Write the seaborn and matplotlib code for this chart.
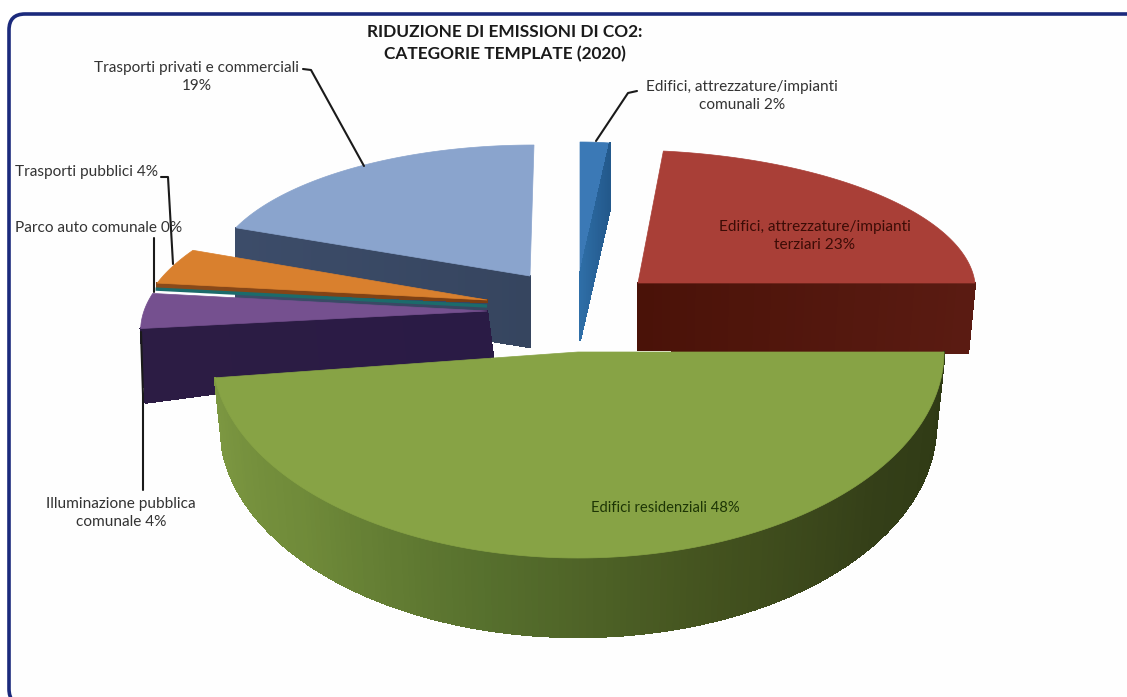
import numpy as np
import matplotlib
matplotlib.use("Agg")
import matplotlib.pyplot as plt
from matplotlib.collections import PolyCollection
from matplotlib.patches import FancyBboxPatch, Polygon
import seaborn as sns

TITLE = "RIDUZIONE DI EMISSIONI DI CO2:\nCATEGORIE TEMPLATE (2020)"

categories = [
    "Edifici, attrezzature/impianti\ncomunali",
    "Edifici, attrezzature/impianti\nterziari",
    "Edifici residenziali",
    "Illuminazione pubblica\ncomunale",
    "Parco auto comunale",
    "Trasporti pubblici",
    "Trasporti privati e commerciali\n",
]
shares = [2, 23, 48, 4, 0, 4, 19]

# colours, same order as the categories
top_colors = ["#3b79b6", "#a93f37", "#87a345", "#75508f", "#1c6b6b", "#d9802e", "#8aa4cd"]
wall_colors = [("#2f6fa8", "#23598c"), ("#4a1208", "#5a1b12"), None, ("#2a1b45", "#2c1c44"),
               None, ("#7a3d12", "#8a4a1a"), ("#36455f", "#3c4c69")]

# projected slices: apex x, apex y, half width, half height, lean, depth at rim, depth at apex, rim shift
cx = [580, 638, 578, 487, 487, 487, 530]
cy = [275, 283, 352, 311, 306, 300, 276]
rx = [240, 337, 366, 343, 334, 340, 318]
ry = [133, 133, 206, 140, 135, 135, 131]
lean = [0, -17, 0, 48, 0, 60, 4]
depth_rim = [65, 70, 0, 74, 0, 5, 72]
depth_apex = [65, 67, 0, 46, 0, 2, 71]
shift_rim = [0, -7, 0, 5, 0, 0, 0]
shift_apex = [0, 0, 0, 6, 0, 0, 0]

sns.set_theme(style="white")
plt.rcParams["font.family"] = ["Lato", "DejaVu Sans"]

W, H = 1127, 697
fig, ax = plt.subplots(figsize=(W / 100, H / 100), dpi=100)
fig.subplots_adjust(0, 0, 1, 1)
ax.set_xlim(0, W)
ax.set_ylim(H, 0)
ax.axis("off")

ax.add_patch(FancyBboxPatch((24, 29), 1300, 661, boxstyle="round,pad=15,rounding_size=16",
                            fc="#fefefe", ec="#1b2a7c", lw=2.6, zorder=0))

edges = np.concatenate([[0], np.cumsum(shares)]) * 360 / sum(shares)


def rim(i, t):
    t = np.radians(t)
    x = cx[i] + rx[i] * np.sin(t) + lean[i] * np.cos(t)
    y = cy[i] - ry[i] * np.cos(t)
    return np.column_stack([x, y])


def draw_wall(i, t, z):
    # flat radial face running from the apex to the rim
    p0 = np.array([cx[i], cy[i]], dtype=float)
    p1 = rim(i, [t])[0]
    pal = sns.blend_palette(list(wall_colors[i]), 40)
    fr = np.linspace(0, 1, 41)
    polys = []
    for a, b in zip(fr[:-1], fr[1:]):
        ta = p0 + (p1 - p0) * a
        tb = p0 + (p1 - p0) * b
        off_a = np.array([shift_apex[i] + (shift_rim[i] - shift_apex[i]) * a,
                          depth_apex[i] + (depth_rim[i] - depth_apex[i]) * a])
        off_b = np.array([shift_apex[i] + (shift_rim[i] - shift_apex[i]) * b,
                          depth_apex[i] + (depth_rim[i] - depth_apex[i]) * b])
        polys.append([ta, tb, tb + off_b, ta + off_a])
    ax.add_collection(PolyCollection(polys, facecolors=pal, edgecolors=pal, linewidths=1,
                                     antialiaseds=False, zorder=z))


def draw_top(i, z):
    arc = rim(i, np.linspace(edges[i], edges[i + 1], 120))
    pts = np.vstack([[cx[i], cy[i]], arc])
    ax.add_patch(Polygon(pts, closed=True, fc=top_colors[i], ec=top_colors[i], lw=0.5, zorder=z))


# back to front: trasporti privati, blue, red, orange, parco, purple, green
draw_wall(6, edges[6], 2)
draw_top(6, 3)

draw_top(0, 2)
draw_wall(0, edges[1], 3)

draw_top(1, 4)
draw_wall(1, edges[2], 3)

draw_wall(5, edges[5], 5)
draw_top(5, 6)

parco = rim(4, [edges[4]])[0]
ax.plot([parco[0], cx[4]], [parco[1], cy[4]], color=top_colors[4], lw=2.4, zorder=6,
        solid_capstyle="butt")

draw_wall(3, edges[3], 7)
draw_top(3, 8)

# green slice, outer wall drawn as strips between top and bottom ellipse
t = np.linspace(edges[3], edges[2], 161)
rad = np.radians(t)
upper = rim(2, t)
lower = np.column_stack([578 + 358 * np.sin(rad), 425 - 212 * np.cos(rad)])
green_pal = sns.blend_palette(["#7d9842", "#6f8a39", "#566f2d", "#44531f", "#343f18", "#2f3a15"], 160)
strips = [[upper[k], upper[k + 1], lower[k + 1], lower[k]] for k in range(160)]
ax.add_collection(PolyCollection(strips, facecolors=green_pal, edgecolors=green_pal, linewidths=1,
                                 antialiaseds=False, zorder=9))
draw_top(2, 10)

# labels
labels = [f"{c} {v}%".replace("\n ", "\n") for c, v in zip(categories, shares)]
txt = dict(color="#333333", fontsize=11.1, zorder=20, linespacing=1.4)
ax.text(742, 96, labels[0], ha="center", va="center", **txt)
ax.text(815, 236, labels[1], ha="center", va="center", **{**txt, "color": "#3c0c06"})
ax.text(665, 508, labels[2], ha="center", va="center", **{**txt, "color": "#1d3505", "fontsize": 10.6})
ax.text(121, 513, labels[3], ha="center", va="center", **txt)
ax.text(15, 228, labels[4], ha="left", va="center", **txt)
ax.text(15, 172, labels[5], ha="left", va="center", **txt)
ax.text(197, 77, labels[6], ha="center", va="center", **txt)
ax.text(505, 43, TITLE, ha="center", va="center", fontsize=12.4, fontweight="bold",
        color="#1a1a1a", linespacing=1.45, zorder=20)

# leader lines
leaders = [
    ([637, 628, 596], [91, 93, 141]),
    ([303, 311, 364], [69, 70, 166]),
    ([161, 168, 173], [177, 177, 264]),
    ([154, 154], [238, 292]),
    ([141, 143, 143], [332, 395, 490]),
]
for xs, ys in leaders:
    ax.plot(xs, ys, color="#1a1a1a", lw=1.5, zorder=15)

fig.savefig("out.png", dpi=100)
